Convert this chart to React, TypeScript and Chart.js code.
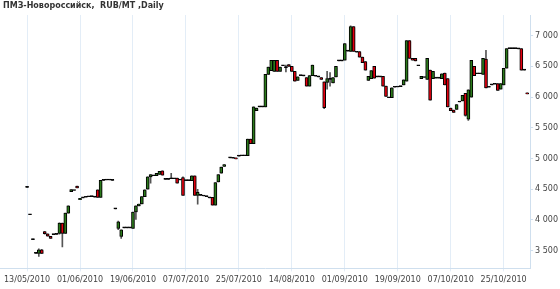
import React, { useEffect, useRef } from "react";
import { Chart, registerables } from "chart.js";

Chart.register(...registerables);

const title = "ПМЗ-Новороссийск,  RUB/MT ,Daily";
const tickPositions = [9, 27, 45, 63, 81, 99, 117, 135, 153, 171];
const tickLabels = [
  "13/05/2010", "01/06/2010", "19/06/2010", "07/07/2010", "25/07/2010",
  "14/08/2010", "01/09/2010", "19/09/2010", "07/10/2010", "25/10/2010",
];
const yTicks = [3500, 4000, 4500, 5000, 5500, 6000, 6500, 7000];

// bar index, open, high, low, close
const barIndex = [
  9, 10, 11, 12, 13, 14, 15, 16, 17, 18, 19, 20, 21, 22, 23, 24, 25, 26, 27, 28,
  29, 30, 31, 32, 33, 34, 35, 36, 37, 38, 39, 40, 41, 42, 43, 44, 45, 46, 47, 48,
  49, 50, 51, 52, 53, 54, 55, 56, 57, 58, 59, 60, 61, 62, 63, 64, 65, 66, 67, 68,
  69, 70, 71, 72, 73, 74, 75, 76, 78, 79, 80, 81, 82, 83, 84, 85, 86, 87, 88, 89,
  90, 91, 92, 93, 94, 95, 96, 97, 98, 99, 100, 101, 102, 103, 104, 105, 106, 107, 108, 109,
  110, 111, 112, 113, 114, 115, 116, 117, 118, 119, 120, 121, 122, 123, 124, 125, 126, 127, 128, 129,
  130, 131, 132, 133, 134, 135, 136, 137, 138, 139, 140, 141, 142, 143, 144, 145, 146, 147, 148, 149,
  150, 151, 152, 153, 154, 155, 156, 157, 158, 159, 160, 161, 162, 163, 164, 165, 166, 167, 168, 169,
  170, 171, 172, 173, 174, 175, 176, 177, 178, 179,
];
const opens = [
  4530, 4085, 3680, 3455, 3455, 3515, 3810, 3775, 3735, 3760, 3765, 3780, 3950, 3780, 4110, 4460, 4480, 4550, 4330, 4360,
  4370, 4378, 4380, 4372, 4490, 4368, 4645, 4650, 4650, 4645, 4180, 3860, 3730, 3870, 3870, 3870, 3860, 4130, 4230, 4260,
  4380, 4500, 4700, 4720, 4720, 4740, 4800, 4660, 4660, 4670, 4670, 4680, 4650, 4690, 4640, 4640, 4640, 4720, 4400, 4400,
  4390, 4380, 4360, 4370, 4240, 4620, 4760, 4870, 5010, 5005, 5010, 5040, 5045, 5045, 5045, 5315, 5240, 5780, 5840, 5840,
  5840, 6370, 6430, 6420, 6600, 6420, 6510, 6480, 6530, 6500, 6420, 6270, 6350, 6345, 6320, 6180, 6350, 6340, 6330, 6320,
  6250, 6240, 6290, 6230, 6330, 6590, 6590, 6600, 6750, 6745, 7150, 6730, 6740, 6650, 6580, 6270, 6300, 6500, 6330, 6330,
  6340, 6180, 5990, 5990, 6160, 6165, 6170, 6200, 6260, 6920, 6630, 6630, 6510, 6300, 6320, 6290, 6440, 6300, 6310, 6310,
  6300, 6390, 6300, 5820, 5790, 5800, 5920, 5940, 6060, 5640, 6000, 6500, 6380, 6380, 6370, 6620, 6160, 6200, 6210, 6220,
  6130, 6200, 6470, 6790, 6790, 6790, 6785, 6790, 6440, 6070,
];
const highs = [
  4530, 4085, 3680, 3455, 3530, 3520, 3815, 3775, 3735, 3760, 3765, 3955, 3950, 4110, 4230, 4495, 4480, 4550, 4350, 4360,
  4370, 4378, 4380, 4372, 4490, 4645, 4645, 4650, 4650, 4645, 4180, 3980, 3840, 3870, 3870, 3870, 4130, 4230, 4260, 4380,
  4490, 4700, 4740, 4720, 4760, 4790, 4800, 4660, 4660, 4760, 4670, 4680, 4650, 4700, 4640, 4640, 4720, 4720, 4500, 4400,
  4390, 4380, 4360, 4370, 4610, 4740, 4860, 4900, 5010, 5005, 5010, 5040, 5045, 5045, 5315, 5315, 5840, 5820, 5840, 5840,
  6370, 6490, 6600, 6600, 6600, 6490, 6510, 6520, 6530, 6500, 6420, 6330, 6350, 6345, 6320, 6350, 6520, 6340, 6330, 6320,
  6250, 6420, 6400, 6320, 6500, 6590, 6590, 6870, 6750, 7160, 7150, 6730, 6740, 6650, 6580, 6340, 6430, 6500, 6330, 6330,
  6340, 6180, 5990, 6150, 6160, 6165, 6170, 6280, 6920, 6920, 6630, 6630, 6510, 6340, 6320, 6630, 6440, 6420, 6310, 6310,
  6380, 6390, 6300, 5820, 5790, 5880, 5920, 6030, 6060, 6120, 6600, 6500, 6380, 6380, 6630, 6760, 6160, 6200, 6210, 6220,
  6220, 6470, 6790, 6790, 6790, 6790, 6785, 6790, 6440, 6070,
];
const lows = [
  4530, 4085, 3680, 3455, 3405, 3450, 3770, 3735, 3700, 3760, 3765, 3770, 3560, 3780, 4110, 4460, 4480, 4520, 4330, 4360,
  4370, 4378, 4380, 4372, 4368, 4368, 4645, 4650, 4650, 4645, 4180, 3840, 3700, 3870, 3870, 3870, 3860, 4010, 4230, 4260,
  4380, 4500, 4600, 4720, 4720, 4740, 4730, 4660, 4660, 4670, 4670, 4600, 4650, 4400, 4640, 4640, 4640, 4400, 4255, 4400,
  4390, 4380, 4360, 4240, 4240, 4620, 4760, 4870, 5010, 5005, 4995, 5040, 5045, 5045, 5045, 5240, 5240, 5780, 5840, 5840,
  5840, 6370, 6430, 6420, 6420, 6420, 6510, 6410, 6500, 6420, 6260, 6270, 6350, 6345, 6180, 6180, 6350, 6340, 6330, 6290,
  5810, 6130, 6180, 6230, 6330, 6590, 6590, 6600, 6750, 6745, 6745, 6730, 6650, 6560, 6440, 6270, 6300, 6310, 6330, 6330,
  6180, 6010, 5990, 5990, 6160, 6165, 6170, 6200, 6260, 6630, 6600, 6590, 6510, 6300, 6320, 6290, 5950, 6300, 6310, 6310,
  6300, 6200, 5840, 5780, 5750, 5800, 5920, 5940, 5690, 5620, 6000, 6350, 6380, 6380, 6370, 6150, 6160, 6200, 6210, 6110,
  6130, 6200, 6470, 6790, 6790, 6790, 6785, 6440, 6440, 6050,
];
const closes = [
  4530, 4085, 3680, 3455, 3515, 3455, 3775, 3735, 3700, 3760, 3765, 3950, 3780, 4110, 4230, 4495, 4480, 4520, 4350, 4360,
  4370, 4378, 4380, 4372, 4368, 4645, 4645, 4650, 4650, 4645, 4180, 3970, 3840, 3870, 3870, 3870, 4130, 4230, 4260, 4380,
  4490, 4700, 4740, 4720, 4760, 4790, 4730, 4660, 4660, 4670, 4670, 4600, 4650, 4400, 4640, 4640, 4720, 4400, 4450, 4400,
  4390, 4380, 4360, 4240, 4610, 4740, 4860, 4900, 5010, 5005, 4995, 5040, 5045, 5045, 5315, 5240, 5840, 5820, 5840, 5840,
  6370, 6490, 6600, 6600, 6420, 6490, 6510, 6480, 6500, 6420, 6260, 6330, 6350, 6345, 6180, 6350, 6520, 6340, 6330, 6290,
  5830, 6300, 6290, 6320, 6500, 6590, 6590, 6870, 6750, 7150, 6745, 6730, 6650, 6560, 6440, 6340, 6430, 6310, 6330, 6330,
  6180, 6010, 5990, 6150, 6160, 6165, 6170, 6280, 6920, 6630, 6600, 6590, 6510, 6340, 6320, 6630, 5950, 6420, 6310, 6310,
  6380, 6200, 5840, 5780, 5750, 5880, 5920, 6030, 5700, 6120, 6600, 6350, 6380, 6380, 6630, 6150, 6160, 6200, 6210, 6110,
  6220, 6470, 6790, 6790, 6790, 6790, 6785, 6440, 6440, 6050,
];

const UP = "#2b7a1b";
const DOWN = "#e3000f";
const FONT = "'DejaVu Sans', Verdana, sans-serif";

function fmt(v: number): string {
  return String(Math.round(v)).replace(/\B(?=(\d{3})+(?!\d))/g, " ");
}

const titlePlugin = {
  id: "topTitle",
  afterDraw(chart: any) {
    const ctx = chart.ctx;
    ctx.save();
    ctx.font = `bold 8px ${FONT}`;
    ctx.fillStyle = "#333333";
    ctx.textBaseline = "middle";
    ctx.textAlign = "left";
    ctx.fillText(title, 3, 6);
    ctx.restore();
  },
};

const shadowPlugin = {
  id: "bodyShadow",
  beforeDatasetDraw(chart: any, args: any) {
    if (args.index === 0) {
      const ctx = chart.ctx;
      ctx.save();
      ctx.shadowColor = "rgba(0,0,0,0.22)";
      ctx.shadowOffsetX = 2;
      ctx.shadowOffsetY = 1;
      ctx.shadowBlur = 0;
    }
  },
  afterDatasetDraw(chart: any, args: any) {
    if (args.index === 0) chart.ctx.restore();
  },
};

export default function App() {
  const ref = useRef<HTMLCanvasElement | null>(null);
  useEffect(() => {
    if (!ref.current) return;
    const bodies = barIndex.map((x, i) => ({ x, y: [opens[i], closes[i]] }));
    const wicks = barIndex.map((x, i) => ({ x, y: [lows[i], highs[i]] }));
    const colors = barIndex.map((_, i) =>
      closes[i] > opens[i] ? UP : closes[i] < opens[i] ? DOWN : "#000000"
    );
    const chart = new Chart(ref.current, {
      type: "bar",
      data: {
        datasets: [
          {
            label: "body",
            data: bodies as any,
            backgroundColor: colors,
            borderColor: "#000000",
            borderWidth: 1,
            borderSkipped: false,
            barThickness: 3,
            minBarLength: 1,
            grouped: false,
          } as any,
          {
            label: "wick",
            data: wicks as any,
            backgroundColor: "#555555",
            borderWidth: 0,
            barThickness: 1,
            grouped: false,
          } as any,
        ],
      },
      options: {
        responsive: false,
        animation: false,
        devicePixelRatio: 1,
        layout: { padding: { top: 15, left: 0, right: 0, bottom: 0 } },
        plugins: {
          legend: { display: false },
          tooltip: { enabled: false },
          title: { display: false },
        },
        scales: {
          x: {
            type: "linear",
            min: 0,
            max: 180,
            offset: false,
            afterBuildTicks: (scale: any) => {
              scale.ticks = tickPositions.map((v) => ({ value: v }));
            },
            ticks: {
              autoSkip: false,
              maxRotation: 0,
              padding: 4,
              color: "#444444",
              font: { family: FONT, size: 8 },
              callback: (v: any) => {
                const k = tickPositions.indexOf(Number(v));
                return k >= 0 ? tickLabels[k] : "";
              },
            },
            grid: {
              offset: false,
              color: "#e3edf7",
              tickLength: 3,
              drawTicks: true,
            },
            border: { color: "#cfdfee", width: 1 },
          } as any,
          y: {
            type: "linear",
            position: "right",
            min: 3211,
            max: 7337,
            afterBuildTicks: (scale: any) => {
              scale.ticks = yTicks.map((v) => ({ value: v }));
            },
            ticks: {
              padding: 2,
              color: "#444444",
              font: { family: FONT, size: 8 },
              callback: (v: any) => fmt(Number(v)),
            },
            grid: {
              drawOnChartArea: false,
              color: "#cfdfee",
              tickLength: 3,
            },
            border: { color: "#cfdfee", width: 1 },
          } as any,
        },
      },
      plugins: [titlePlugin, shadowPlugin],
    });
    return () => chart.destroy();
  }, []);
  return (
    <div style={{ position: "fixed", left: 0, top: 0, width: 560, height: 289, background: "#ffffff" }}>
      <canvas ref={ref} width={560} height={289} style={{ width: 560, height: 289, display: "block" }} />
    </div>
  );
}
